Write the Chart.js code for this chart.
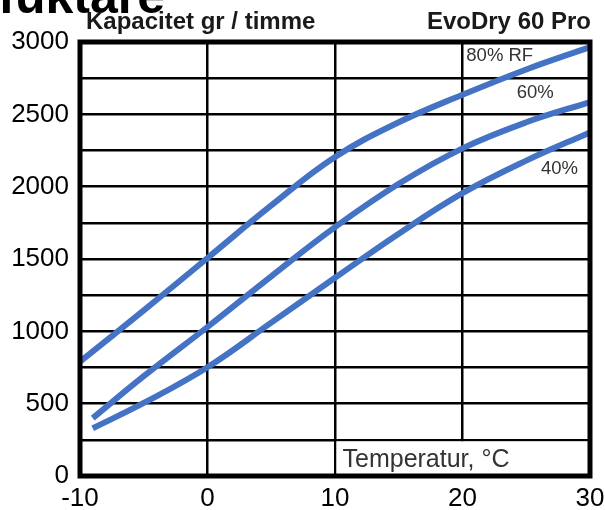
<!DOCTYPE html>
<html>
    <head>
        <meta charset="UTF-8">
        <title>EvoDry 60 Pro</title>
        <script src="https://cdn.jsdelivr.net/npm/chart.js@4.4.1/dist/chart.umd.min.js"></script>
        <style>
            html, body { margin: 0; padding: 0; background: #fff; }
            canvas { display: block; }
        </style>
    </head>
    <body>
        <canvas id="grafica" width="605" height="510"></canvas>

        <script>
            // temperatur (°C) och kapacitet (gr / timme)
            const temp80 = [-10, -5, 0, 5, 10, 15, 20, 25, 30];
            const temp = [-9, -5, 0, 5, 10, 15, 20, 25, 30];
            const rf80 = [790, 1145, 1507, 1870, 2205, 2445, 2635, 2810, 2965];
            const rf60 = [400, 690, 1030, 1380, 1720, 2020, 2265, 2445, 2585];
            const rf40 = [330, 505, 752, 1060, 1370, 1675, 1955, 2180, 2375];

            const xTicks = [-10, 0, 10, 20, 30];
            const yLabels = [0, 500, 1000, 1500, 2000, 2500, 3000];

            const blue = '#4472c4';
            const font = '"Liberation Sans", Arial, sans-serif';

            function punkter(xs, ys) {
                return xs.map((x, i) => ({x: x, y: ys[i]}));
            }

            const rutor = {
                id: 'rutor',
                beforeDatasetsDraw(chart) {
                    const ctx = chart.ctx;
                    const x = chart.scales.x, y = chart.scales.y;
                    // tom ruta nere till höger för axeltexten
                    ctx.save();
                    ctx.fillStyle = '#fff';
                    const x0 = x.getPixelForValue(10) + 1.5;
                    const x1 = x.getPixelForValue(30);
                    const y0 = y.getPixelForValue(250) + 1.5;
                    const y1 = y.getPixelForValue(0);
                    ctx.fillRect(x0, y0, x1 - x0, y1 - y0);
                    ctx.fillStyle = '#333';
                    ctx.font = '25px ' + font;
                    ctx.textBaseline = 'middle';
                    ctx.fillText('Temperatur, °C', x0 + 6, (y0 + y1) / 2 + 1);
                    ctx.restore();
                },
                afterDatasetsDraw(chart) {
                    const ctx = chart.ctx;
                    const a = chart.chartArea;
                    ctx.save();
                    ctx.strokeStyle = '#000';
                    ctx.lineWidth = 5;
                    ctx.strokeRect(a.left, a.top, a.right - a.left, a.bottom - a.top);
                    ctx.restore();
                },
                afterDraw(chart) {
                    const ctx = chart.ctx;
                    const x = chart.scales.x, y = chart.scales.y;
                    ctx.save();
                    ctx.fillStyle = '#000';
                    ctx.font = 'bold 50px ' + font;
                    ctx.textAlign = 'right';
                    ctx.textBaseline = 'alphabetic';
                    ctx.fillText('Avfuktare', 165, 13);

                    ctx.fillStyle = '#1a1a1a';
                    ctx.font = 'bold 24px ' + font;
                    ctx.textAlign = 'left';
                    ctx.fillText('Kapacitet gr / timme', 86, 29);
                    ctx.textAlign = 'right';
                    ctx.fillText('EvoDry 60 Pro', 591, 29);

                    ctx.fillStyle = '#333';
                    ctx.font = '18.5px ' + font;
                    ctx.textBaseline = 'middle';
                    ctx.textAlign = 'left';
                    ctx.fillText('80% RF', x.getPixelForValue(20.3), y.getPixelForValue(2905));
                    ctx.textAlign = 'center';
                    ctx.fillText('60%', x.getPixelForValue(25.7), y.getPixelForValue(2645));
                    ctx.fillText('40%', x.getPixelForValue(27.6), y.getPixelForValue(2125));
                    ctx.restore();
                }
            };

            const ctx = document.getElementById('grafica').getContext('2d');

            const linje = (label, data) => ({
                label: label,
                data: data,
                borderColor: blue,
                borderWidth: 6,
                pointRadius: 0,
                fill: false,
                tension: 0.4,
                borderCapStyle: 'butt'
            });

            new Chart(ctx, {
                type: 'line',
                data: {
                    datasets: [
                        linje('80% RF', punkter(temp80, rf80)),
                        linje('60%', punkter(temp, rf60)),
                        linje('40%', punkter(temp, rf40))
                    ]
                },
                options: {
                    responsive: false,
                    animation: false,
                    layout: {padding: {top: 42, right: 15, left: 0, bottom: 0}},
                    scales: {
                        x: {
                            type: 'linear',
                            min: -10,
                            max: 30,
                            afterBuildTicks: s => { s.ticks = xTicks.map(v => ({value: v})); },
                            afterFit: s => { s.height = 34; s.paddingRight = 0; s.paddingLeft = 0; },
                            grid: {color: '#000', lineWidth: 2.5, drawTicks: false},
                            border: {display: false},
                            ticks: {color: '#000', font: {size: 26, family: font}, padding: 7, maxRotation: 0}
                        },
                        y: {
                            min: 0,
                            max: 3000,
                            afterFit: s => { s.width = 80; },
                            grid: {color: '#000', lineWidth: 2.5, drawTicks: false},
                            border: {display: false},
                            ticks: {
                                stepSize: 250,
                                color: '#000',
                                font: {size: 26, family: font},
                                padding: 11,
                                callback: v => yLabels.includes(v) ? v : ''
                            }
                        }
                    },
                    plugins: {
                        legend: {display: false},
                        tooltip: {enabled: false}
                    }
                },
                plugins: [rutor]
            });
        </script>
    </body>
</html>
